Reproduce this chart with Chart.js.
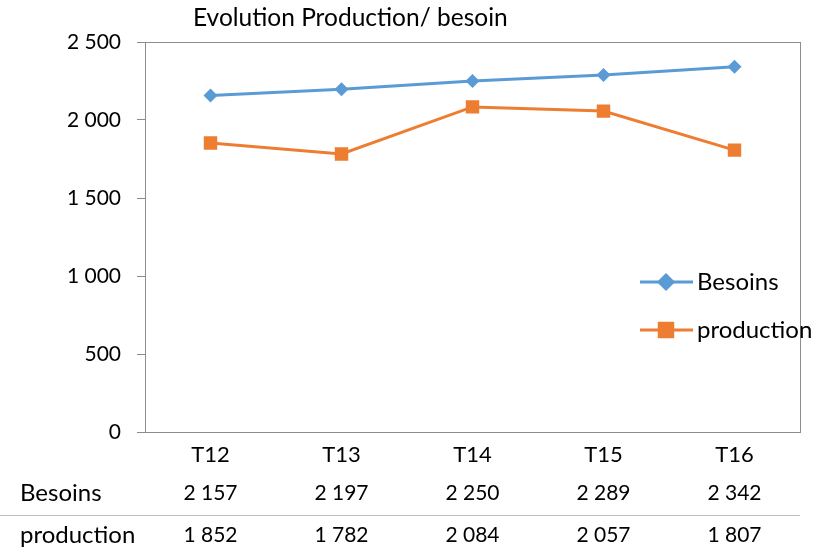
<!DOCTYPE html>
<html>
<head>
<meta charset="utf-8">
<script src="https://cdn.jsdelivr.net/npm/chart.js@4/dist/chart.umd.min.js"></script>
<style>
  html, body { margin: 0; padding: 0; background: #fff; }
  #wrap { width: 834px; height: 549px; }
</style>
</head>
<body>
<div id="wrap"><canvas id="chart" width="834" height="549"></canvas></div>
<script>
// data
const periods = ["T12", "T13", "T14", "T15", "T16"];
const besoins = [2157, 2197, 2250, 2289, 2342];
const production = [1852, 1782, 2084, 2057, 1807];
const yTicks = [0, 500, 1000, 1500, 2000, 2500];
const chartTitle = "Evolution Production/ besoin";

const FONT = "Lato, 'Liberation Sans', sans-serif";
const BLUE = "#5B9BD5";
const ORANGE = "#ED7D31";

function fmt(n) {
  return String(n).replace(/\B(?=(\d{3})+(?!\d))/g, " ");
}

const series = [
  { label: "Besoins", data: besoins, color: BLUE, style: "rectRot", radius: 7 },
  { label: "production", data: production, color: ORANGE, style: "rect", radius: 9.5 }
];

// frame, title, legend and data table
const extras = {
  id: "extras",
  afterDraw(chart) {
    const { ctx, chartArea: a, scales } = chart;
    ctx.save();
    ctx.strokeStyle = "#8c8c8c";
    ctx.lineWidth = 1;
    ctx.strokeRect(a.left + 0.5, a.top + 0.5, a.right - a.left, a.bottom - a.top);

    ctx.fillStyle = "#000";
    ctx.font = "24.5px " + FONT;
    ctx.textBaseline = "middle";
    ctx.textAlign = "left";
    ctx.fillText(chartTitle, 193, 18);

    // legend
    ctx.font = "24px " + FONT;
    series.forEach((s, i) => {
      const y = 282 + i * 48;
      ctx.strokeStyle = s.color;
      ctx.lineWidth = 3;
      ctx.beginPath();
      ctx.moveTo(640, y);
      ctx.lineTo(693, y);
      ctx.stroke();
      Chart.helpers.drawPoint(ctx, {
        pointStyle: s.style, radius: s.radius, borderWidth: 1
      }, 666, y);
      ctx.fillStyle = s.color;
      ctx.fill();
      ctx.fillStyle = "#000";
      ctx.fillText(s.label, 697, y);
    });

    // data table
    const x = scales.x;
    series.forEach((s, i) => {
      const y = 493 + i * 42;
      ctx.fillStyle = "#000";
      ctx.textAlign = "left";
      ctx.font = "24px " + FONT;
      ctx.fillText(s.label, 20, y);
      ctx.textAlign = "center";
      ctx.font = "21px " + FONT;
      s.data.forEach((v, j) => ctx.fillText(fmt(v), x.getPixelForValue(j), y));
    });
    ctx.strokeStyle = "#bfbfbf";
    ctx.lineWidth = 1;
    ctx.beginPath();
    ctx.moveTo(0, 515.5);
    ctx.lineTo(a.right, 515.5);
    ctx.stroke();
    ctx.restore();
  }
};

new Chart(document.getElementById("chart"), {
  type: "line",
  data: {
    labels: periods,
    datasets: series.map(s => ({
      label: s.label,
      data: s.data,
      borderColor: s.color,
      backgroundColor: s.color,
      borderWidth: 3,
      pointStyle: s.style,
      pointRadius: s.radius,
      pointBorderWidth: 0,
      tension: 0
    }))
  },
  options: {
    responsive: false,
    animation: false,
    layout: { padding: { left: 0, right: 34, top: 42, bottom: 0 } },
    plugins: { legend: { display: false }, title: { display: false }, tooltip: { enabled: false } },
    scales: {
      x: {
        offset: true,
        grid: { display: false, drawTicks: false },
        border: { display: false },
        ticks: { color: "#000", padding: 10, font: { family: FONT, size: 22 } },
        afterFit(scale) { scale.height = 117; }
      },
      y: {
        min: yTicks[0],
        max: yTicks[yTicks.length - 1],
        afterBuildTicks(scale) { scale.ticks = yTicks.map(v => ({ value: v })); },
        grid: { drawOnChartArea: false, tickLength: 8, color: "#8c8c8c" },
        border: { display: false },
        ticks: { color: "#000", padding: 16, font: { family: FONT, size: 21 }, callback: v => fmt(v) },
        afterFit(scale) { scale.width = 145; }
      }
    }
  },
  plugins: [extras]
});
</script>
</body>
</html>
